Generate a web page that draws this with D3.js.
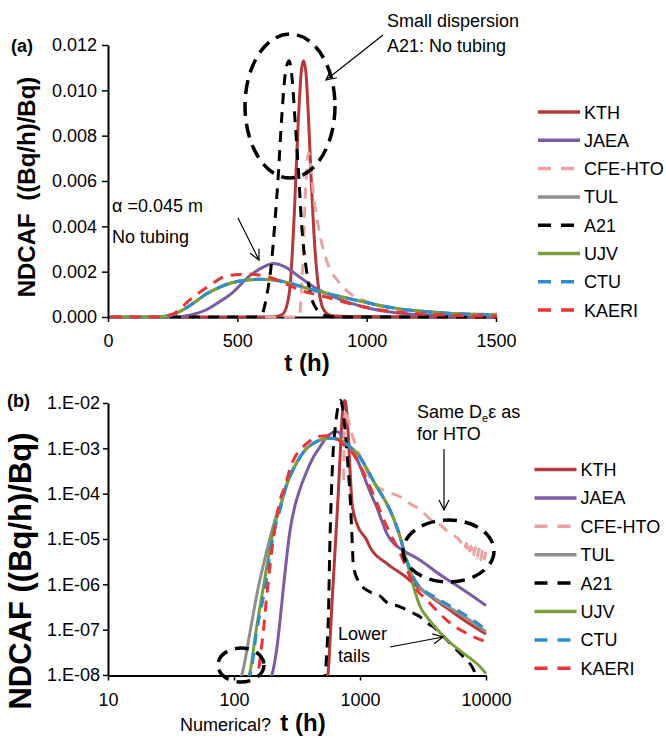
<!DOCTYPE html>
<meta charset="utf-8" />
<style>
  body { margin: 0; background: #fff; }
  svg { font-family: "Liberation Sans", Arial, sans-serif; }
  .axis .domain { stroke: #000; stroke-width: 2; }
  .axis .tick line { stroke: #000; stroke-width: 1.5; }
  .axis .tick text { fill: #000; font-size: 18px; }
  .note { font-size: 18px; fill: #000; }
</style>
<body>
<div class="container"></div>
<script src="https://d3js.org/d3.v7.min.js"></script>
<script>
  // series, [t (h), NDCAF]
  const seriesNames = ["KTH", "JAEA", "CFE-HTO", "TUL", "A21", "UJV", "CTU", "KAERI"];

  const kth = [[240,1e-14],[557,1e-8],[600,4e-7],[640,9e-6],[672,1e-4],[690,4.5e-4],[705,1.5e-3],
    [720,4.5e-3],[735,8.5e-3],[748,1.09e-2],[756,1.13e-2],[765,1.08e-2],[775,8.8e-3],[785,6.2e-3],
    [800,3.0e-3],[815,1.2e-3],[830,4e-4],[850,1.2e-4],[865,6e-5],[942,2.2e-5],[1130,9.5e-6],
    [1200,6.6e-6],[1630,2.9e-6],[2350,1.4e-6],[2660,1.05e-6],[3600,5.5e-7],[4900,3e-7],
    [7000,1.5e-7],[10000,8e-8]];

  const jaea = [[10,1e-14],[200,1e-8],[219,4e-8],[247,8.7e-7],[262,4e-6],[279,1.6e-5],[305,5.5e-5],
    [335,1.3e-4],[380,3.2e-4],[428,6.5e-4],[484,1.1e-3],[546,1.8e-3],[600,2.2e-3],[640,2.36e-3],
    [690,2.18e-3],[742,1.75e-3],[807,1.25e-3],[871,9e-4],[935,6.2e-4],[1026,3.4e-4],[1129,1.7e-4],
    [1250,8.5e-5],[1360,5e-5],[1500,2.4e-5],[1636,1.3e-5],[1900,7.5e-6],[2220,5.5e-6],[3006,3.4e-6],
    [4000,1.9e-6],[5530,1.04e-6],[7500,6e-7],[10000,3.4e-7]];

  // zeros before the breakthrough: drawn on the linear panel, dropped on the log panel
  const cfeHto = [[240,0],[736,0],[742,2e-4],[748,1.3e-3],[755,2.8e-3],[761,4.85e-3],
    [768,6.5e-3],[775,7.25e-3],[785,6.6e-3],[794,5.45e-3],[813,4e-3],[845,2.5e-3],[897,1.48e-3],
    [935,1.04e-3],[1000,6.8e-4],[1100,3.9e-4],[1205,2.2e-4],[1362,1.45e-4],[1650,1.1e-4],
    [2083,8.5e-5],[2500,6e-5],[3006,4.4e-5],[3400,3.2e-5],[3836,2.4e-5],[4300,2.1e-5],[4900,1.5e-5],
    [5300,1.3e-5],[5800,1.1e-5],[6250,9e-6],[6700,6e-6],[7000,8e-6],[7300,4.5e-6],[7600,7e-6],
    [7900,4e-6],[8200,6.5e-6],[8500,3.8e-6],[8800,6e-6],[9100,3.5e-6],[9400,6e-6],[9700,3.6e-6],
    [10000,5.5e-6]];

  const tul = [[10,1e-12],[115,1e-8],[135,1e-7],[156,8.7e-7],[175,3.5e-6],[194,1.1e-5],[219,3.5e-5],
    [240,7e-5],[260,1.5e-4],[296,3.5e-4],[335,6.5e-4],[378,1.0e-3],[428,1.3e-3],[483,1.52e-3],
    [530,1.62e-3],[580,1.66e-3],[639,1.63e-3],[700,1.5e-3],[742,1.36e-3],[800,1.17e-3],[871,9.7e-4],
    [940,7.9e-4],[987,6.7e-4],[1050,5.1e-4],[1116,3.8e-4],[1205,2.6e-4],[1300,1.75e-4],[1373,1.35e-4],
    [1500,9e-5],[1633,6e-5],[1850,2.8e-5],[2083,1.1e-5],[2285,4.2e-6],[2660,1.35e-6],[3190,7.2e-7],
    [4070,4.6e-7],[5530,2.7e-7],[7500,1.6e-7],[10000,9e-8]];

  const a21 = [[240,1e-14],[529,1e-8],[550,5e-8],[562,2.3e-7],[576,6.8e-6],[590,7e-5],[600,2.5e-4],
    [613,9e-4],[633,2.5e-3],[646,4.3e-3],[658,6.2e-3],[671,8.7e-3],[685,1.07e-2],[700,1.13e-2],
    [712,1.05e-2],[723,8.7e-3],[736,6.5e-3],[749,4.0e-3],[768,2.0e-3],[794,6e-4],[832,1e-4],
    [860,1.5e-5],[888,2.4e-6],[1000,1.04e-6],[1200,6.8e-7],[1445,5.5e-7],[1633,4e-7],[2083,3.2e-7],
    [2660,2.3e-7],[3006,1.9e-7],[3400,1.4e-7],[3836,1.15e-7],[4340,8.3e-8],[5530,4.2e-8],
    [6640,2.5e-8],[7980,1.3e-8],[8300,1e-8],[9000,4e-9]];

  const ujv = [[10,1e-12],[132,1e-8],[150,1e-7],[171,8.7e-7],[194,6.8e-6],[212,2.2e-5],[232,5.1e-5],
    [260,1.5e-4],[296,3.5e-4],[335,6.5e-4],[378,1.0e-3],[428,1.3e-3],[483,1.52e-3],[530,1.62e-3],
    [580,1.66e-3],[639,1.63e-3],[700,1.5e-3],[742,1.36e-3],[800,1.17e-3],[871,9.7e-4],[940,7.9e-4],
    [987,6.7e-4],[1050,5.1e-4],[1116,3.8e-4],[1205,2.6e-4],[1300,1.75e-4],[1373,1.35e-4],[1500,9e-5],
    [1633,6e-5],[1850,2.8e-5],[2083,1.1e-5],[2300,4e-6],[2500,1.7e-6],[2750,6.5e-7],[3006,3.2e-7],
    [3400,1.9e-7],[3836,1.25e-7],[4900,6e-8],[6640,3e-8],[9020,1.5e-8],[10000,1.07e-8]];

  const ctu = [[10,1e-12],[134,1e-8],[152,1e-7],[177,8.7e-7],[196,6e-6],[215,2.1e-5],[235,5e-5],
    [260,1.5e-4],[296,3.5e-4],[335,6.5e-4],[378,1.0e-3],[428,1.3e-3],[483,1.52e-3],[530,1.62e-3],
    [580,1.66e-3],[639,1.63e-3],[700,1.5e-3],[742,1.36e-3],[800,1.17e-3],[871,9.7e-4],[940,7.9e-4],
    [987,6.7e-4],[1050,5.1e-4],[1116,3.8e-4],[1205,2.6e-4],[1300,1.75e-4],[1373,1.35e-4],[1500,9e-5],
    [1633,6e-5],[1850,2.8e-5],[2083,1.1e-5],[2285,4.3e-6],[2500,2.2e-6],[2660,1.4e-6],[3190,7.6e-7],
    [4070,5e-7],[5530,3e-7],[7500,1.8e-7],[9570,1.1e-7],[10000,1e-7]];

  const kaeri = [[10,1e-12],[153,1e-8],[168,6e-8],[185,8.7e-7],[205,1e-5],[232,7.2e-5],[255,1.5e-4],
    [279,3.6e-4],[304,6.3e-4],[356,1.1e-3],[400,1.45e-3],[454,1.8e-3],[510,1.88e-3],[549,1.89e-3],
    [590,1.84e-3],[639,1.7e-3],[690,1.45e-3],[742,1.19e-3],[800,1.0e-3],[871,8e-4],[930,6e-4],
    [987,4.5e-4],[1067,2.9e-4],[1180,1.6e-4],[1362,6.2e-5],[1500,3.2e-5],[1740,1.3e-5],[2140,4.1e-6],
    [2630,1.05e-6],[3600,3.8e-7],[4900,1.6e-7],[7000,8.3e-8],[10000,5.4e-8]];

  const seriesValues = [kth, jaea, cfeHto, tul, a21, ujv, ctu, kaeri];

  // axes ticks
  const xTicksA = [0, 500, 1000, 1500];
  const yTicksA = [0, 0.002, 0.004, 0.006, 0.008, 0.010, 0.012];
  const yLabelsA = ["0.000", "0.002", "0.004", "0.006", "0.008", "0.010", "0.012"];
  const xTicksB = [10, 100, 1000, 10000];
  const yTicksB = [1e-8, 1e-7, 1e-6, 1e-5, 1e-4, 1e-3, 1e-2];
  const yLabelsB = ["1.E-08", "1.E-07", "1.E-06", "1.E-05", "1.E-04", "1.E-03", "1.E-02"];

  const style = {
    "KTH": { color: "#B5393A", dash: null },
    "JAEA": { color: "#7B5BA3", dash: null },
    "CFE-HTO": { color: "#E9A3A2", dash: "11,8" },
    "TUL": { color: "#8F8F8F", dash: null },
    "A21": { color: "#000000", dash: "11,8" },
    "UJV": { color: "#76A03B", dash: null },
    "CTU": { color: "#2F8DCE", dash: "11,8" },
    "KAERI": { color: "#EC3335", dash: "11,8" },
  };

  const svg = d3.select(".container").append("svg")
    .attr("width", 666).attr("height", 738);

  const defs = svg.append("defs");
  defs.append("marker").attr("id", "arrow")
    .attr("viewBox", "0 0 12 12").attr("refX", 11).attr("refY", 6)
    .attr("markerWidth", 12).attr("markerHeight", 12).attr("markerUnits", "userSpaceOnUse")
    .attr("orient", "auto")
    .append("path").attr("d", "M1,1 L11,6 L1,11")
    .attr("fill", "none").attr("stroke", "#000").attr("stroke-width", 1.2);
  defs.append("clipPath").attr("id", "clipA").append("rect")
    .attr("x", 108).attr("y", 30).attr("width", 389).attr("height", 291);
  defs.append("clipPath").attr("id", "clipB").append("rect")
    .attr("x", 108).attr("y", 397).attr("width", 379).attr("height", 279);

  // panel (a) : linear
  const xA = d3.scaleLinear().domain([0, 1500]).range([108, 496]);
  const yA = d3.scaleLinear().domain([0, 0.012]).range([317, 45]);
  // panel (b) : log-log
  const xB = d3.scaleLog().domain([10, 10000]).range([108, 486]);
  const yB = d3.scaleLog().domain([1e-8, 1e-2]).range([675, 403]);

  function drawPanel(x, y, clip, isLog) {
    const line = d3.line()
      .x(d => x(d[0]))
      .y(d => y(d[1]))
      .curve(d3.curveMonotoneX);
    const g = svg.append("g").attr("clip-path", "url(#" + clip + ")");
    seriesNames.forEach((name, i) => {
      const pts = isLog ? seriesValues[i].filter(d => d[1] > 0) : seriesValues[i];
      g.append("path")
        .datum(pts)
        .attr("d", line)
        .attr("fill", "none")
        .attr("stroke", style[name].color)
        .attr("stroke-width", 3)
        .attr("stroke-linejoin", "round")
        .attr("stroke-dasharray", style[name].dash);
    });
  }

  function styleAxis(g) {
    g.attr("font-family", null).attr("font-size", null);
  }

  // axes (a)
  svg.append("g").attr("class", "axis")
    .attr("transform", "translate(108,0)")
    .call(d3.axisLeft(yA).tickValues(yTicksA).tickFormat((d, i) => yLabelsA[i])
      .tickSize(6).tickPadding(5).tickSizeOuter(0))
    .call(styleAxis);
  svg.append("g").attr("class", "axis")
    .attr("transform", "translate(0,317)")
    .call(d3.axisBottom(xA).tickValues(xTicksA).tickFormat(d3.format("d"))
      .tickSize(5).tickPadding(12).tickSizeOuter(0))
    .call(styleAxis);

  // axes (b)
  svg.append("g").attr("class", "axis")
    .attr("transform", "translate(108,0)")
    .call(d3.axisLeft(yB).tickValues(yTicksB).tickFormat((d, i) => yLabelsB[i])
      .tickSize(5).tickPadding(3).tickSizeOuter(0))
    .call(styleAxis);
  svg.append("g").attr("class", "axis")
    .attr("transform", "translate(0,675.5)")
    .call(d3.axisBottom(xB).tickValues(xTicksB).tickFormat(d3.format("d"))
      .tickSize(5).tickPadding(13).tickSizeOuter(0))
    .call(styleAxis);

  drawPanel(xA, yA, "clipA", false);
  drawPanel(xB, yB, "clipB", true);

  // legends
  function legend(x0, y0, step) {
    seriesNames.forEach((name, i) => {
      const yy = y0 + i * step;
      const s = style[name];
      svg.append("line")
        .attr("x1", x0).attr("x2", s.dash ? x0 + 37 : x0 + 42)
        .attr("y1", yy).attr("y2", yy)
        .attr("stroke", s.color).attr("stroke-width", 3.5)
        .attr("stroke-dasharray", s.dash ? "13,10" : null);
      svg.append("text").attr("class", "note")
        .attr("x", x0 + 46).attr("y", yy + 6.5)
        .text(name);
    });
  }
  legend(538, 112, 28.3);
  legend(534.5, 469.5, 28.4);

  // axis titles
  const ta = svg.append("text")
    .attr("transform", "translate(35,187) rotate(-90)")
    .attr("text-anchor", "middle").attr("font-weight", "bold").attr("font-size", 24);
  ta.append("tspan").text("NDCAF ");
  ta.append("tspan").attr("dx", 6).text("((Bq/h)/Bq)");
  svg.append("text")
    .attr("transform", "translate(31,571) rotate(-90)")
    .attr("text-anchor", "middle").attr("font-weight", "bold").attr("font-size", 31)
    .text("NDCAF ((Bq/h)/Bq)");
  svg.append("text").attr("x", 307).attr("y", 371)
    .attr("text-anchor", "middle").attr("font-weight", "bold").attr("font-size", 24)
    .text("t (h)");
  svg.append("text").attr("x", 303).attr("y", 731)
    .attr("text-anchor", "middle").attr("font-weight", "bold").attr("font-size", 24)
    .text("t (h)");
  svg.append("text").attr("class", "note").attr("x", 180).attr("y", 731)
    .text("Numerical?");

  svg.append("text").attr("x", 11).attr("y", 52)
    .attr("font-weight", "bold").attr("font-size", 18).text("(a)");
  svg.append("text").attr("x", 7).attr("y", 407)
    .attr("font-weight", "bold").attr("font-size", 18).text("(b)");

  // annotations (a)
  svg.append("text").attr("class", "note").attr("x", 387).attr("y", 27).text("Small dispersion");
  svg.append("text").attr("class", "note").attr("x", 387).attr("y", 52).text("A21: No tubing");
  svg.append("text").attr("class", "note").attr("x", 112).attr("y", 212).text("\u03b1 =0.045 m");
  svg.append("text").attr("class", "note").attr("x", 112).attr("y", 243).text("No tubing");

  function arrow(x1, y1, x2, y2) {
    svg.append("line")
      .attr("x1", x1).attr("y1", y1).attr("x2", x2).attr("y2", y2)
      .attr("stroke", "#000").attr("stroke-width", 1.2)
      .attr("marker-end", "url(#arrow)");
  }
  function ring(cx, cy, rx, ry) {
    svg.append("ellipse")
      .attr("cx", cx).attr("cy", cy).attr("rx", rx).attr("ry", ry)
      .attr("fill", "none").attr("stroke", "#000").attr("stroke-width", 3.5)
      .attr("stroke-dasharray", "14,8");
  }
  arrow(383, 35, 326, 80);
  arrow(238, 218, 259, 260);
  ring(290, 106, 45, 72);

  // annotations (b)
  const de = svg.append("text").attr("class", "note").attr("x", 417).attr("y", 418);
  de.append("tspan").text("Same D");
  de.append("tspan").attr("font-size", 11).attr("dy", 4).text("e");
  de.append("tspan").attr("dy", -4).text("\u03b5 as");
  svg.append("text").attr("class", "note").attr("x", 417).attr("y", 440).text("for HTO");
  svg.append("text").attr("class", "note").attr("x", 338).attr("y", 640).text("Lower");
  svg.append("text").attr("class", "note").attr("x", 338).attr("y", 662).text("tails");
  arrow(444, 449, 444, 510);
  arrow(390, 647, 443, 637);
  ring(448.5, 551, 45.5, 31);
  ring(241, 665, 23, 17);
</script>
</body>
